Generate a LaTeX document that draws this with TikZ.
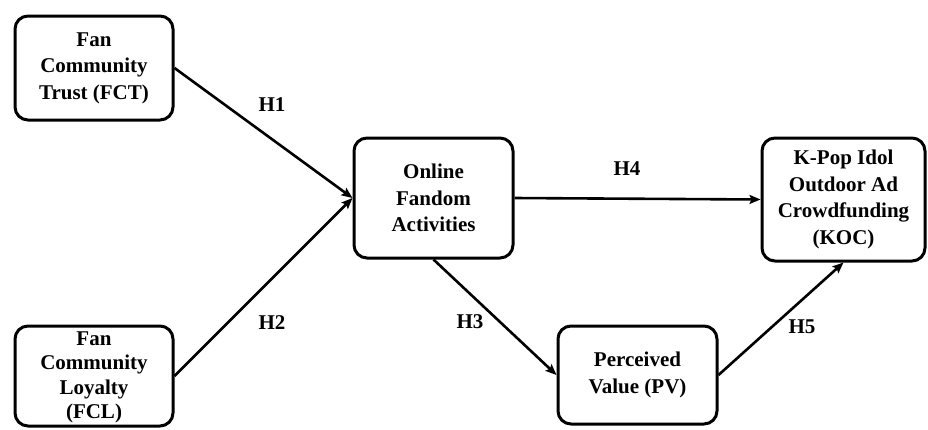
\documentclass[tikz,border=0pt]{standalone}
\usepackage{fontspec}
\setmainfont{Liberation Serif}
\usetikzlibrary{arrows.meta}

\begin{document}
\begin{tikzpicture}[x=1pt,y=-1pt,
        box/.style={draw,line width=3pt,rounded corners=13pt,align=center,inner sep=0pt,
            font=\bfseries\fontsize{21}{26.5}\selectfont},
        link/.style={line width=2.6pt,-{Stealth[length=11pt,width=9pt,inset=2pt]}},
        hyp/.style={font=\bfseries\fontsize{21}{26}\selectfont}]
            \useasboundingbox (0,0) rectangle (928,429);

            \coordinate (fct) at (94,68);
            \coordinate (fcl) at (94,376);
            \coordinate (ofa) at (433.5,198);
            \coordinate (koc) at (843.5,199.5);
            \coordinate (pv) at (637.5,375);

            \node[box,minimum width=158pt,minimum height=104pt] (FCT) at (fct) {Fan\\Community\\Trust (FCT)};
            % text of FCL fills the whole frame, so it sits on its own
            \node[box,minimum width=158pt,minimum height=100pt] (FCL) at (fcl) {};
            \node[box,draw=none,font=\bfseries\fontsize{21}{24.5}\selectfont] (FCLtext) at ([yshift=-1.5pt]FCL.center) {Fan\\Community\\Loyalty\\(FCL)};
            \node[box,minimum width=159pt,minimum height=120pt] (OFA) at (ofa) {Online\\Fandom\\Activities};
            \node[box,minimum width=163pt,minimum height=123pt] (KOC) at (koc) {K-Pop Idol\\Outdoor Ad\\Crowdfunding\\(KOC)};
            \node[box,minimum width=159pt,minimum height=98pt] (PV) at (pv) {Perceived\\Value (PV)};

            \draw[link] (FCT.east)--(OFA.west);
            \draw[link] (FCL.east)--(OFA.west);
            \draw[link] (OFA.east)--(KOC.west);
            \draw[link] (OFA.south)--(PV.west);
            \draw[link] (PV.east)--(KOC.south);

            \foreach \h/\x/\y in {H1/272/105,H2/272/323,H3/470/322,H4/627/169,H5/802/327}{
                \node[hyp] (\h) at (\x,\y) {\h};
            }
        \end{tikzpicture}
\end{document}
